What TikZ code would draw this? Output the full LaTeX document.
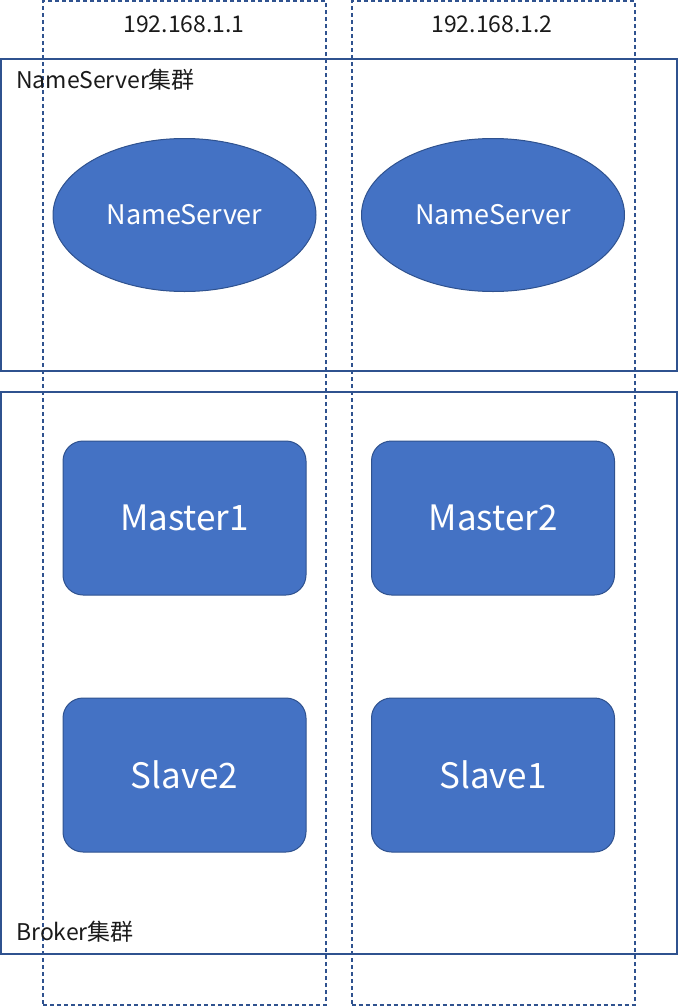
\documentclass[tikz,border=0pt]{standalone}
\usepackage{fontspec}
\setmainfont{Noto Sans CJK SC}
\usetikzlibrary{shapes.geometric}
\definecolor{diagramLine}{HTML}{2F528F}
\definecolor{diagramFill}{HTML}{4472C4}
\definecolor{diagramText}{HTML}{1A1A1A}

\begin{document}
\begin{tikzpicture}[
    x=1pt,y=-1pt,
    every node/.style={align=center,inner sep=0pt},
    host/.style={draw=diagramLine,line width=2pt,dash pattern=on 4pt off 3pt,minimum width=283pt,minimum height=1004pt},
    cluster/.style={draw=diagramLine,line width=1.8pt,minimum width=676pt},
    hostlabel/.style={font=\fontsize{23}{26}\selectfont,text=diagramText},
    clusterlabel/.style={font=\fontsize{23}{26}\selectfont,text=diagramText,anchor=west},
    nameserver/.style={ellipse,draw=diagramLine,line width=1pt,fill=diagramFill,text=white,minimum width=263pt,minimum height=153pt,font=\fontsize{27}{30}\selectfont},
    broker/.style={draw=diagramLine,line width=1pt,fill=diagramFill,text=white,rounded corners=20pt,minimum width=243pt,minimum height=154pt,font=\fontsize{35}{40}\selectfont}
]
\useasboundingbox (0,0) rectangle (678,1007);
\node[cluster,minimum height=312pt] (nscluster) at (339,215) {};
\node[cluster,minimum height=562pt] (brcluster) at (339,673) {};
\node[host] (hosta) at (184.5,503) {};
\node[host] (hostb) at (493,503) {};
\node[hostlabel] (ipa) at (184,24) {192.168.1.1};
\node[hostlabel] (ipb) at (492,24) {192.168.1.2};
\node[clusterlabel] (nslabel) at (16,80) {NameServer集群};
\node[clusterlabel] (brlabel) at (16,932) {Broker集群};
\node[nameserver] (nsa) at (184.5,215) {NameServer};
\node[nameserver] (nsb) at (493,215) {NameServer};
\node[broker] (master1) at (184.5,518) {Master1};
\node[broker] (master2) at (493,518) {Master2};
\node[broker] (slave2) at (184.5,775) {Slave2};
\node[broker] (slave1) at (493,775) {Slave1};
\end{tikzpicture}
\end{document}
